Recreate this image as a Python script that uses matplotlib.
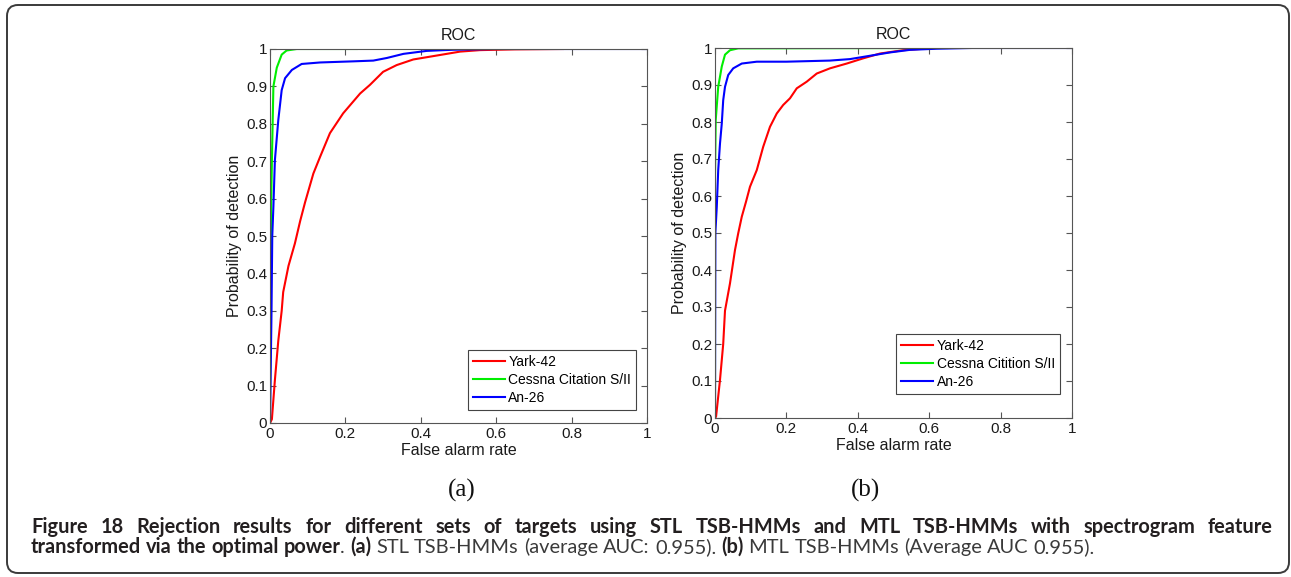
import matplotlib
matplotlib.use("Agg")
import matplotlib.pyplot as plt
from matplotlib.patches import FancyBboxPatch

# ROC curves, panel (a): STL TSB-HMMs
yark_a_fa = [0, 0.005, 0.013, 0.022, 0.031, 0.035, 0.049, 0.066, 0.08, 0.093, 0.115, 0.133,
             0.159, 0.194, 0.239, 0.265, 0.30, 0.336, 0.38, 0.451, 0.504, 0.557, 0.65, 0.777]
yark_a_pd = [0, 0.01, 0.115, 0.22, 0.30, 0.35, 0.42, 0.48, 0.54, 0.59, 0.667, 0.712,
             0.775, 0.828, 0.881, 0.904, 0.939, 0.957, 0.972, 0.984, 0.993, 0.997, 0.999, 1.0]
cessna_a_fa = [0, 0.001, 0.002, 0.003, 0.005, 0.009, 0.018, 0.031, 0.044, 0.071, 0.23]
cessna_a_pd = [0, 0.3, 0.45, 0.578, 0.70, 0.90, 0.95, 0.985, 0.996, 1.0, 1.0]
an26_a_fa = [0, 0.004, 0.006, 0.009, 0.013, 0.022, 0.031, 0.04, 0.058, 0.084, 0.133, 0.221,
             0.274, 0.31, 0.354, 0.416, 0.486, 0.6, 1.0]
an26_a_pd = [0, 0.3, 0.5, 0.578, 0.703, 0.81, 0.89, 0.922, 0.944, 0.96, 0.964, 0.967,
             0.969, 0.976, 0.987, 0.995, 0.998, 1.0, 1.0]

# ROC curves, panel (b): MTL TSB-HMMs
yark_b_fa = [0, 0.003, 0.014, 0.023, 0.028, 0.042, 0.056, 0.065, 0.075, 0.087, 0.098, 0.117,
             0.135, 0.154, 0.173, 0.191, 0.21, 0.229, 0.257, 0.285, 0.322, 0.369, 0.415,
             0.462, 0.527, 0.584, 0.62]
yark_b_pd = [0, 0.004, 0.103, 0.20, 0.29, 0.364, 0.454, 0.499, 0.544, 0.585, 0.625, 0.67,
             0.733, 0.787, 0.823, 0.846, 0.864, 0.891, 0.909, 0.931, 0.945, 0.958, 0.972,
             0.985, 0.994, 0.998, 1.0]
cessna_b_fa = [0, 0.0, 0.002, 0.009, 0.019, 0.028, 0.042, 0.065, 0.65]
cessna_b_pd = [0, 0.652, 0.805, 0.895, 0.95, 0.982, 0.994, 0.999, 1.0]
an26_b_fa = [0, 0.001, 0.005, 0.009, 0.014, 0.019, 0.023, 0.028, 0.037, 0.051, 0.075, 0.117,
             0.2, 0.322, 0.378, 0.434, 0.49, 0.546, 0.62, 0.72, 1.0]
an26_b_pd = [0, 0.5, 0.571, 0.67, 0.742, 0.796, 0.859, 0.895, 0.927, 0.945, 0.958, 0.963,
             0.963, 0.966, 0.97, 0.979, 0.988, 0.995, 0.998, 1.0, 1.0]

labels_a = ["Yark-42", "Cessna Citation S/II", "An-26"]
labels_b = ["Yark-42", "Cessna Citition S/II", "An-26"]
colors = ["#ff0000", "#00ee00", "#0000ff"]
xticks = [0, 0.2, 0.4, 0.6, 0.8, 1]
xticklabels = ["0", "0.2", "0.4", "0.6", "0.8", "1"]
yticks = [0, 0.1, 0.2, 0.3, 0.4, 0.5, 0.6, 0.7, 0.8, 0.9, 1]
yticklabels = ["0", "0.1", "0.2", "0.3", "0.4", "0.5", "0.6", "0.7", "0.8", "0.9", "1"]

caption1 = [("Figure 18 Rejection results for different sets of targets using STL TSB-HMMs "
             "and MTL TSB-HMMs with spectrogram feature", "bold")]
caption2 = [("transformed via the optimal power", "bold"), (".", "normal"),
            (" (a)", "bold"), (" STL TSB-HMMs (average AUC: 0.955).", "normal"),
            (" (b)", "bold"), (" MTL TSB-HMMs (Average AUC 0.955).", "normal")]

W, H = 1291, 577
fig = plt.figure(figsize=(W / 100, H / 100), dpi=100)
fig.patch.set_facecolor("white")

# pixel-space canvas for the frame and the caption
bg = fig.add_axes([0, 0, 1, 1], zorder=0)
bg.set_xlim(0, W)
bg.set_ylim(H, 0)
bg.axis("off")
bg.add_patch(FancyBboxPatch((7, 5), 1282, 568, boxstyle="round,pad=0,rounding_size=11",
                            fc="white", ec="#3a3a3a", lw=1.4))

axfont = "Liberation Sans"
spine_col = "#555555"


def roc_panel(rect, curves, labels, leg_anchor):
    ax = fig.add_axes(rect, zorder=2)
    for (fa, pd), c, lab in zip(curves, colors, labels):
        ax.plot(fa, pd, color=c, lw=1.5, label=lab)
    ax.set_xlim(0, 1)
    ax.set_ylim(0, 1)
    ax.set_xticks(xticks)
    ax.set_xticklabels(xticklabels)
    ax.set_yticks(yticks)
    ax.set_yticklabels(yticklabels)
    ax.tick_params(direction="in", length=4, width=0.8, color=spine_col, labelsize=11,
                   labelcolor="#1a1a1a", top=True, right=True)
    ax.tick_params(axis="x", pad=3)
    ax.tick_params(axis="y", pad=2)
    for lbl in ax.get_xticklabels() + ax.get_yticklabels():
        lbl.set_family(axfont)
    for s in ax.spines.values():
        s.set_color(spine_col)
        s.set_linewidth(0.8)
    ax.set_title("ROC", fontsize=11.5, family=axfont, color="#1a1a1a", pad=6.5)
    ax.set_xlabel("False alarm rate", fontsize=11.5, family=axfont, color="#1a1a1a",
                  labelpad=1)
    ax.set_ylabel("Probability of detection", fontsize=11.5, family=axfont,
                  color="#1a1a1a", labelpad=3)
    leg = ax.legend(loc="lower right", bbox_to_anchor=leg_anchor, fancybox=False,
                    framealpha=1, edgecolor="#444444", borderpad=0.35, labelspacing=0.3,
                    handlelength=2.3, handletextpad=0.25, borderaxespad=0,
                    prop={"family": axfont, "size": 10})
    leg.get_frame().set_linewidth(0.8)
    return ax


roc_panel([270 / W, (H - 423) / H, 377 / W, 374 / H],
          [(yark_a_fa, yark_a_pd), (cessna_a_fa, cessna_a_pd), (an26_a_fa, an26_a_pd)],
          labels_a, (0.971, 0.035))
roc_panel([715 / W, (H - 418) / H, 357 / W, 370 / H],
          [(yark_b_fa, yark_b_pd), (cessna_b_fa, cessna_b_pd), (an26_b_fa, an26_b_pd)],
          labels_b, (0.966, 0.065))

bg.text(462, 490, "(a)", family="Liberation Serif", fontsize=18, ha="center", va="center",
        color="#111111")
bg.text(865, 490, "(b)", family="Liberation Serif", fontsize=18, ha="center", va="center",
        color="#111111")

# caption, set word by word so the first line can be justified
capfont = "Lato"
capcol = {"bold": "#231f20", "normal": "#3a3a3a"}
renderer = fig.canvas.get_renderer()


def text_w(s, weight, fs):
    t = bg.text(0, 0, s, family=capfont, fontweight=weight, fontsize=fs)
    w = t.get_window_extent(renderer).width
    t.remove()
    return w


def tokens(runs):
    out = []
    gap = False
    for text, weight in runs:
        for i, part in enumerate(text.split(" ")):
            if i > 0:
                gap = True
            if part:
                out.append((part, weight, gap))
                gap = False
    return out


def space_w(weight, fs):
    return text_w("x x", weight, fs) - text_w("xx", weight, fs)


def line_width(toks, fs):
    total = 0
    for k, (s, wt, gap) in enumerate(toks):
        total += text_w(s, wt, fs)
        if gap and k > 0:
            total += space_w(wt, fs)
    return total


def set_line(toks, x0, y, fs, x1=None):
    widths = [text_w(s, wt, fs) for s, wt, _ in toks]
    ngaps = sum(1 for k, t in enumerate(toks) if t[2] and k > 0)
    if x1 is not None:
        sp = (x1 - x0 - sum(widths)) / ngaps
    x = x0
    for k, ((s, wt, gap), w) in enumerate(zip(toks, widths)):
        if gap and k > 0:
            x += sp if x1 is not None else space_w(wt, fs)
        bg.text(x, y, s, family=capfont, fontweight=wt, fontsize=fs, color=capcol[wt],
                ha="left", va="baseline")
        x += w


t1 = tokens(caption1)
t2 = tokens(caption2)
base = 11.0
fs1 = base * 1160 / line_width(t1, base)
fs2 = base * (1045 - 31) / line_width(t2, base)
fs = 0.5 * (fs1 + fs2)
set_line(t1, 31, 533, fs, x1=1273)
set_line(t2, 31, 553, fs)

fig.savefig("out.png", dpi=100, facecolor="white")
